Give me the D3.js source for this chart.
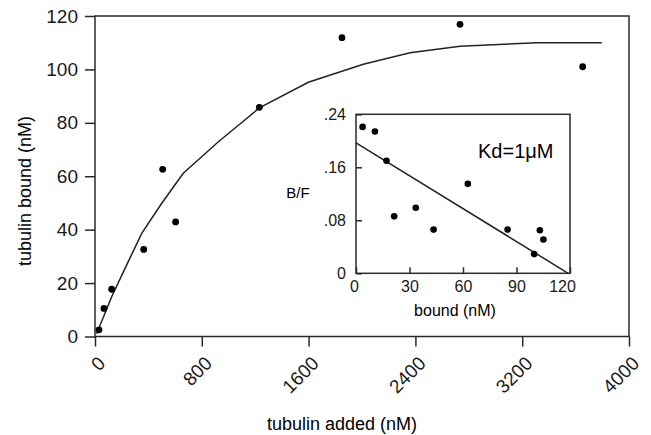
<!DOCTYPE html>
<html>
<head>
    <title>Tubulin binding</title>
    <meta charset="utf-8">
    <script src="https://cdn.jsdelivr.net/npm/d3@7"></script>
    <style>
        body { margin: 0; background: #fff; }
        svg { display: block; font-family: "Liberation Sans", Arial, sans-serif; }
        .frame { fill: none; stroke: #2a2a2a; stroke-width: 1.5px; }
        .axis line { stroke: #2a2a2a; stroke-width: 1.5px; }
        .axis text { fill: #1a1a1a; }
        .fit { fill: none; stroke: #222; stroke-width: 1.5px; }
        .dot { fill: #000; }
    </style>
</head>
<body>
<svg id="chart" width="651" height="435"></svg>
<script>
// main plot: tubulin added vs bound
var addedX = [30, 67, 125, 365, 507, 604, 1231, 1850, 2734, 3653];
var boundY = [2.5, 10.5, 17.7, 32.6, 62.6, 42.9, 85.8, 111.9, 116.9, 101];
// fitted curve
var fitX = [12, 125, 225, 350, 500, 661, 799, 924, 1111, 1231, 1598, 2010, 2360, 2734, 3309, 3796];
var fitY = [1.0, 14.9, 25.5, 38.6, 49.9, 61.1, 67.3, 72.9, 80.6, 85.6, 95.2, 101.9, 106.2, 108.7, 110, 110];
var xTicks = [0, 800, 1600, 2400, 3200, 4000];
var yTicks = [0, 20, 40, 60, 80, 100, 120];

// inset: Scatchard plot
var scatX = [3.7, 10.6, 17.1, 21.4, 33.5, 43.5, 62.7, 85.0, 99.9, 103.1, 105.1];
var scatY = [0.221, 0.214, 0.170, 0.086, 0.099, 0.066, 0.135, 0.066, 0.029, 0.065, 0.051];
var lineX = [0, 119];
var lineY = [0.197, 0];
var inXTicks = [0, 30, 60, 90, 120];
var inYTicks = [0, 0.08, 0.16, 0.24];

var svg = d3.select("#chart");

var x = d3.scaleLinear().domain([0, 4000]).range([95, 629]);
var y = d3.scaleLinear().domain([0, 120]).range([336.5, 16]);

// y axis
var gy = svg.append("g").attr("class", "axis")
    .attr("transform", "translate(95,0)")
    .call(d3.axisLeft(y).tickValues(yTicks).tickSize(10).tickSizeOuter(0).tickPadding(7));
gy.select(".domain").remove();
gy.selectAll("text").style("font-size", "19px");

// x axis, rotated labels
var gx = svg.append("g").attr("class", "axis")
    .attr("transform", "translate(0,336.5)")
    .call(d3.axisBottom(x).tickValues(xTicks).tickFormat(d3.format("d")).tickSize(10).tickSizeOuter(0));
gx.select(".domain").remove();
gx.selectAll("text")
    .attr("x", 0).attr("y", 0).attr("dy", 0)
    .attr("text-anchor", "end")
    .attr("transform", "translate(11,28) rotate(-45)")
    .style("font-size", "19px");

svg.append("rect").attr("class", "frame")
    .attr("x", 95).attr("y", 16)
    .attr("width", 629 - 95).attr("height", 336.5 - 16);

var fitPts = fitX.map(function (d, i) { return [d, fitY[i]]; });
svg.append("path").attr("class", "fit")
    .attr("d", d3.line()
        .x(function (d) { return x(d[0]); })
        .y(function (d) { return y(d[1]); })(fitPts));

svg.selectAll("circle.main")
    .data(addedX)
    .enter()
    .append("circle")
    .attr("class", "dot main")
    .attr("cx", function (d) { return x(d); })
    .attr("cy", function (d, i) { return y(boundY[i]); })
    .attr("r", 3.4);

svg.append("text")
    .attr("x", 342).attr("y", 430)
    .attr("text-anchor", "middle")
    .style("font-size", "18px")
    .text("tubulin added (nM)");

svg.append("text")
    .attr("transform", "translate(31,191) rotate(-90)")
    .attr("text-anchor", "middle")
    .style("font-size", "18px")
    .text("tubulin bound (nM)");

// ---- inset ----
var xi = d3.scaleLinear().domain([0, 120]).range([356, 570]);
var yi = d3.scaleLinear().domain([0, 0.24]).range([273.3, 114.3]);

svg.append("rect")
    .attr("x", 356).attr("y", 114.3)
    .attr("width", 570 - 356).attr("height", 273.3 - 114.3)
    .attr("fill", "#fff");

var fmt = function (d) { return d === 0 ? "0" : d3.format(".2f")(d).replace(/^0/, ""); };

var giy = svg.append("g").attr("class", "axis")
    .attr("transform", "translate(356,0)")
    .call(d3.axisLeft(yi).tickValues(inYTicks).tickFormat(fmt).tickSize(-6).tickSizeOuter(0).tickPadding(10));
giy.select(".domain").remove();
giy.selectAll("text").style("font-size", "16px");

var gix = svg.append("g").attr("class", "axis")
    .attr("transform", "translate(0,273.3)")
    .call(d3.axisBottom(xi).tickValues(inXTicks).tickSize(-6).tickSizeOuter(0).tickPadding(7));
gix.select(".domain").remove();
gix.selectAll("text").style("font-size", "16px")
    .attr("dx", function (d) { return d === 120 ? -8 : (d === 0 ? -2 : 0); });

svg.append("rect").attr("class", "frame")
    .attr("x", 356).attr("y", 114.3)
    .attr("width", 570 - 356).attr("height", 273.3 - 114.3);

svg.append("line").attr("class", "fit")
    .attr("x1", xi(lineX[0])).attr("y1", yi(lineY[0]))
    .attr("x2", xi(lineX[1])).attr("y2", yi(lineY[1]));

svg.selectAll("circle.inset")
    .data(scatX)
    .enter()
    .append("circle")
    .attr("class", "dot inset")
    .attr("cx", function (d) { return xi(d); })
    .attr("cy", function (d, i) { return yi(scatY[i]); })
    .attr("r", 3.3);

svg.append("text")
    .attr("x", 298).attr("y", 198)
    .attr("text-anchor", "middle")
    .style("font-size", "15px")
    .text("B/F");

svg.append("text")
    .attr("x", 455).attr("y", 316)
    .attr("text-anchor", "middle")
    .style("font-size", "16px")
    .text("bound (nM)");

svg.append("text")
    .attr("x", 478).attr("y", 158)
    .style("font-size", "20px")
    .text("Kd=1μM");
</script>
</body>
</html>
